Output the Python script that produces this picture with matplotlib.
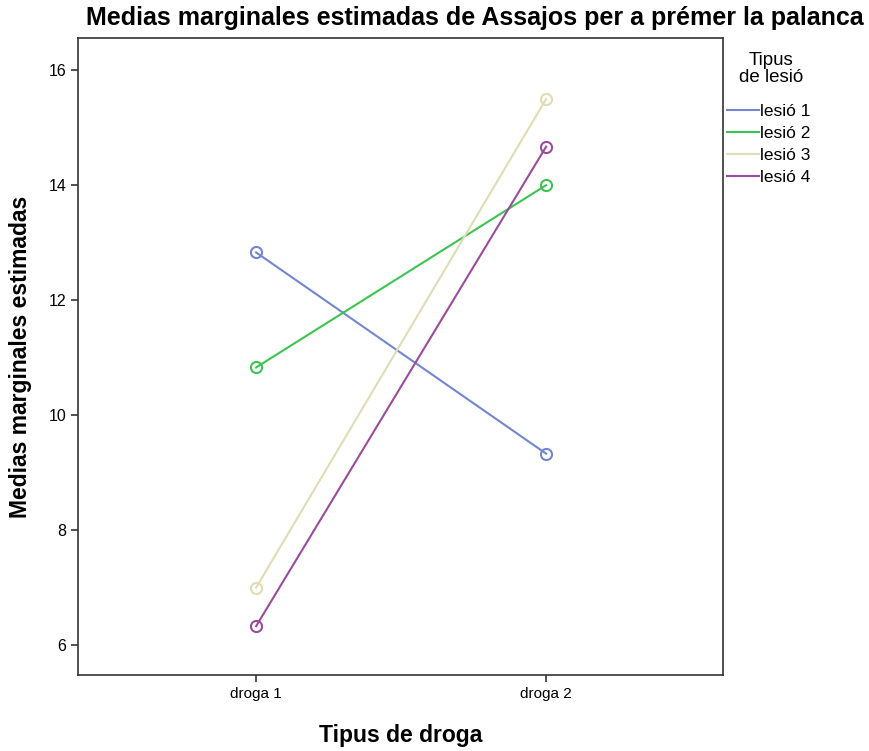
import matplotlib.pyplot as plt

# Data
drugs = ['droga 1', 'droga 2']
lesions = ['lesió 1', 'lesió 2', 'lesió 3', 'lesió 4']
lesio1 = [12.83, 9.33]
lesio2 = [10.83, 14.0]
lesio3 = [7.0, 15.5]
lesio4 = [6.33, 14.67]
colors = ['#7386cf', '#3cc452', '#e0dcb4', '#9a4c9c']

plt.rcParams['font.family'] = ['Liberation Sans', 'DejaVu Sans']

fig = plt.figure(figsize=(8.7, 7.51), dpi=100)
ax = fig.add_axes([0.0897, 0.1012, 0.7414, 0.8482])

x = list(range(len(drugs)))
handles = []
for vals, lab, c in zip([lesio1, lesio2, lesio3, lesio4], lesions, colors):
    ax.plot(x, vals, color=c, linewidth=1.5, marker='o', markersize=8,
            markerfacecolor='none', markeredgecolor=c, markeredgewidth=1.5)
    h, = ax.plot([], [], color=c, linewidth=1.5, label=lab)
    handles.append(h)

ax.set_xlim(-0.614, 1.61)
ax.set_ylim(5.48, 16.56)
ax.set_xticks(x)
ax.set_xticklabels(drugs, fontsize=11)
ax.set_yticks([6, 8, 10, 12, 14, 16])
ax.tick_params(axis='y', labelsize=11.5)
ax.tick_params(length=5, width=1.2, color='#333333')
for s in ax.spines.values():
    s.set_linewidth(1.2)
    s.set_color('#333333')

ax.set_xlabel('Tipus de droga', fontsize=16.5, fontweight='bold', labelpad=17)
ax.set_ylabel('Medias marginales estimadas', fontsize=16.5, fontweight='bold', labelpad=12)

fig.text(0.546, 0.976, 'Medias marginales estimadas de Assajos per a prémer la palanca',
         ha='center', va='center', fontsize=18, fontweight='bold')

fig.text(0.886, 0.908, 'Tipus\nde lesió', ha='center', va='center', fontsize=13.5,
         linespacing=1.05)
leg = fig.legend(handles=handles, loc='upper left', bbox_to_anchor=(0.836, 0.862),
                 frameon=False, fontsize=12.5, handlelength=1.8, handletextpad=0.1,
                 labelspacing=0.4, borderaxespad=0, borderpad=0)

fig.savefig('out.png', dpi=100)
